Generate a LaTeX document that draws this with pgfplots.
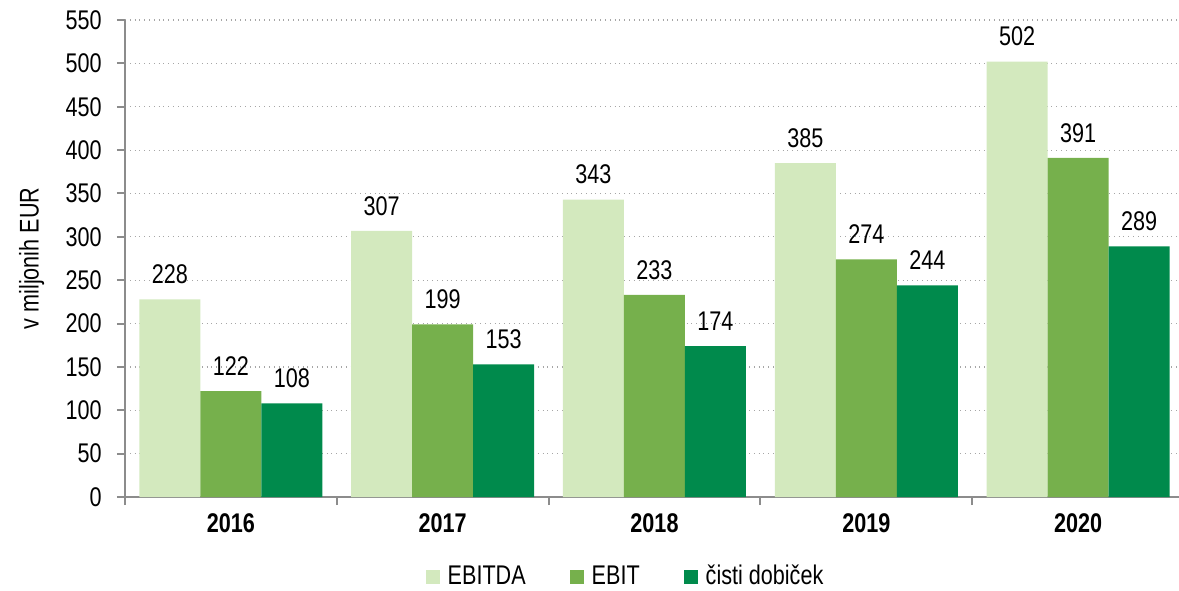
\documentclass[border=0pt]{standalone}
\usepackage{fontspec}
\setmainfont{Liberation Sans}[FakeStretch=0.8]
\usepackage{pgfplots}
\pgfplotsset{compat=1.18}
\definecolor{cA}{HTML}{D3E9BE}
\definecolor{cB}{HTML}{76B04C}
\definecolor{cC}{HTML}{008A4C}
\definecolor{axgray}{HTML}{8C8C8C}
\begin{document}
\fontsize{13.5pt}{16pt}\selectfont
\begin{tikzpicture}
\useasboundingbox (-62.5pt,-46.5pt) rectangle (527pt,248.5pt);
\begin{axis}[
  at={(0,0)}, anchor=south west,
  scale only axis, width=529.5pt, height=238.5pt,
  /pgf/number format/assume math mode=true,
  font=\fontsize{13.5pt}{16pt}\selectfont,
  ybar=0pt, bar width=30.5pt,
  xmin=-0.5, xmax=4.5, ymin=0, ymax=550,
  ytick={0,50,...,550},
  xtick={0,1,2,3,4},
  xticklabels={2016,2017,2018,2019,2020},
  xticklabel style={font=\fontsize{13.5pt}{16pt}\selectfont\bfseries, yshift=0.5pt},
  minor xtick={-0.5,0.5,...,4.5},
  major x tick style={draw=none},
  minor x tick style={axgray, line width=1pt},
  minor tick length=4pt,
  major tick length=4pt,
  tick align=outside,
  ytick style={axgray, line width=1pt},
  yticklabel style={xshift=-3pt},
  axis x line*=bottom, axis y line*=left,
  axis line style={axgray, line width=1.2pt, -},
  ymajorgrids, grid style={gray!70, dotted, line width=0.6pt},
  ylabel={v miljonih EUR},
  ylabel style={yshift=1.5pt},
  nodes near coords,
  every node near coord/.append style={anchor=south, yshift=3pt, font=\fontsize{13.5pt}{16pt}\selectfont, text=black},
  legend columns=3,
  legend style={at={(0.4736,-0.168)}, anchor=center, draw=none, fill=none,
    /tikz/every even column/.append style={column sep=20pt},
    /tikz/every odd column/.append style={column sep=2pt},
    font=\fontsize{13.5pt}{16pt}\selectfont},
  legend image code/.code={\fill[#1] (0pt,-3.5pt) rectangle (7pt,3.5pt);},
  clip=false,
]
\addplot[fill=cA, draw=none] coordinates {(0,228) (1,307) (2,343) (3,385) (4,502)};
\addplot[fill=cB, draw=none] coordinates {(0,122) (1,199) (2,233) (3,274) (4,391)};
\addplot[fill=cC, draw=none] coordinates {(0,108) (1,153) (2,174) (3,244) (4,289)};
\legend{EBITDA, EBIT, čisti dobiček}
\end{axis}
\end{tikzpicture}
\end{document}
